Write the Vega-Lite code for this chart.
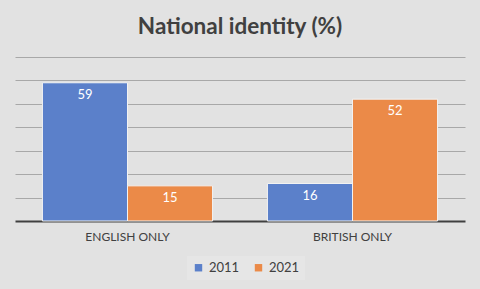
{
  "$schema": "https://vega.github.io/schema/vega-lite/v6.json",
  "width": 450,
  "height": 164,
  "autosize": "none",
  "padding": {"left": 15, "top": 57, "right": 15, "bottom": 68},
  "background": "#e2e2e2",
  "title": {"text": "National identity (%)", "fontSize": 22.5, "font": "Lato", "fontWeight": "bold", "color": "#404040", "offset": 19, "anchor": "middle"},
  "data": {"values": [
    {"category": "ENGLISH ONLY", "year": "2011", "value": 59},
    {"category": "ENGLISH ONLY", "year": "2021", "value": 15},
    {"category": "BRITISH ONLY", "year": "2011", "value": 16},
    {"category": "BRITISH ONLY", "year": "2021", "value": 52}
  ]},
  "encoding": {
    "x": {"field": "category", "type": "nominal", "sort": ["ENGLISH ONLY", "BRITISH ONLY"],
      "scale": {"paddingInner": 0.244, "paddingOuter": 0.122},
      "axis": {"title": null, "labelAngle": 0, "domainColor": "#404040", "domainWidth": 2, "ticks": false, "labelFont": "Lato", "labelFontSize": 12, "labelColor": "#404040", "labelPadding": 10}},
    "xOffset": {"field": "year", "type": "nominal"},
    "y": {"field": "value", "type": "quantitative", "scale": {"domain": [0, 70], "nice": false},
      "axis": {"title": null, "labels": false, "ticks": false, "domain": false, "values": [10, 20, 30, 40, 50, 60, 70], "gridColor": "#a8a8a8", "gridWidth": 1}}
  },
  "layer": [
    {"mark": {"type": "bar", "stroke": "#f2f2f2", "strokeWidth": 1},
     "encoding": {"color": {"field": "year", "type": "nominal",
       "scale": {"domain": ["2011", "2021"], "range": ["#5b80ca", "#eb8a48"]},
       "legend": {"title": null, "orient": "none", "legendX": 172, "legendY": 199, "direction": "horizontal", "fillColor": "#e6e6e6", "padding": 5, "symbolType": "square", "symbolSize": 55, "symbolStrokeWidth": 0, "labelFont": "Lato", "labelFontSize": 13, "labelColor": "#404040", "columnPadding": 12}}}},
    {"mark": {"type": "text", "baseline": "middle", "dy": 12, "color": "white", "fontSize": 13, "font": "Lato"},
     "encoding": {"text": {"field": "value", "type": "quantitative"}}}
  ],
  "config": {"view": {"stroke": null}}
}
